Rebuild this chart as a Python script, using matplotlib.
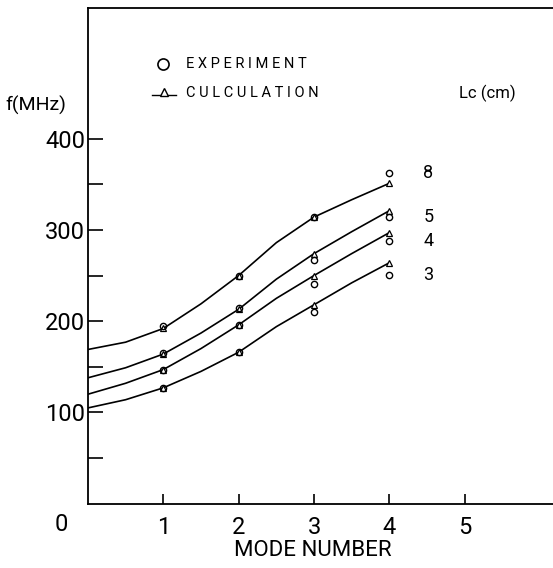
import matplotlib
matplotlib.use("Agg")
import matplotlib.pyplot as plt

plt.rcParams['font.family'] = ['Roboto', 'DejaVu Sans']

# 曲线读数 (MHz)，每 0.5 个模数读一个点
mode_curve = [0, 0.5, 1, 1.5, 2, 2.5, 3, 3.5, 4]
calc_lc8 = [169, 177, 192, 219, 250, 286, 314, 333, 351]
calc_lc5 = [138, 149, 164, 187, 213, 246, 274, 298, 321]
calc_lc4 = [120, 132, 147, 170, 196, 225, 250, 274, 297]
calc_lc3 = [105, 114, 127, 145, 166, 194, 218, 242, 264]

# 实验点
mode_exp = [1, 2, 3, 4]
exp_lc8 = [195, 250, 314, 362]
exp_lc5 = [165, 214, 267, 314]
exp_lc4 = [147, 196, 241, 288]
exp_lc3 = [127, 166, 210, 251]

lc_labels = ['8', '5', '4', '3']
x_ticks = [1, 2, 3, 4, 5]
y_ticks = [100, 200, 300, 400]

fig = plt.figure(figsize=(5.53, 5.68), dpi=100)
ax = fig.add_axes([0.159, 0.113, 0.845, 0.873])
ax.set_xlim(0, 6.2)
ax.set_ylim(0, 543)

calcs = [calc_lc8, calc_lc5, calc_lc4, calc_lc3]
exps = [exp_lc8, exp_lc5, exp_lc4, exp_lc3]
for calc, exp, lab in zip(calcs, exps, lc_labels):
    ax.plot(mode_curve, calc, color='black', lw=1.2)
    # 计算点 (曲线上的小三角)
    ax.plot(mode_curve[2::2], calc[2::2], linestyle='none', marker='^', ms=4,
            mfc='white', mec='black', mew=0.9)
    # 实验点
    ax.plot(mode_exp, exp, linestyle='none', marker='o', ms=4.5,
            mfc='none', mec='black', mew=1.0)
    ax.text(4.45, exp[-1], lab, fontsize=13, ha='left', va='center')

ax.text(4.93, 449, 'Lc (cm)', fontsize=12, ha='left', va='center')

# 图例
ax.plot([1.0], [482], marker='o', ms=8, mfc='none', mec='black', mew=1.2)
ax.text(1.3, 482, 'E X P E R I M E N T', fontsize=10.5, ha='left', va='center')
ax.plot([0.85, 1.17], [448, 448], color='black', lw=1.0)
ax.plot([1.01], [451], marker='^', ms=6, mfc='white', mec='black', mew=1.0)
ax.text(1.3, 450, 'C U L C U L A T I O N', fontsize=10.5, ha='left', va='center')

ax.set_xticks(x_ticks)
ax.set_xticklabels([str(v) for v in x_ticks], fontsize=17)
ax.set_yticks(y_ticks)
ax.set_yticklabels([str(v) for v in y_ticks], fontsize=17)
ax.set_yticks([50, 150, 250, 350], minor=True)
ax.tick_params(axis='y', which='both', direction='in', length=11, width=1.2, pad=2)
ax.tick_params(axis='x', direction='in', length=7, width=1.2, pad=9)

ax.text(-0.35, -23, '0', fontsize=17, ha='center', va='center', clip_on=False)
ax.text(2.98, -51, 'MODE NUMBER', fontsize=16, ha='center', va='center', clip_on=False)
ax.text(-1.1, 436, 'f(MHz)', fontsize=14, ha='left', va='center', clip_on=False)

ax.spines['right'].set_visible(False)
for s in ['left', 'bottom', 'top']:
    ax.spines[s].set_linewidth(1.3)

fig.savefig('out.png', dpi=100)
